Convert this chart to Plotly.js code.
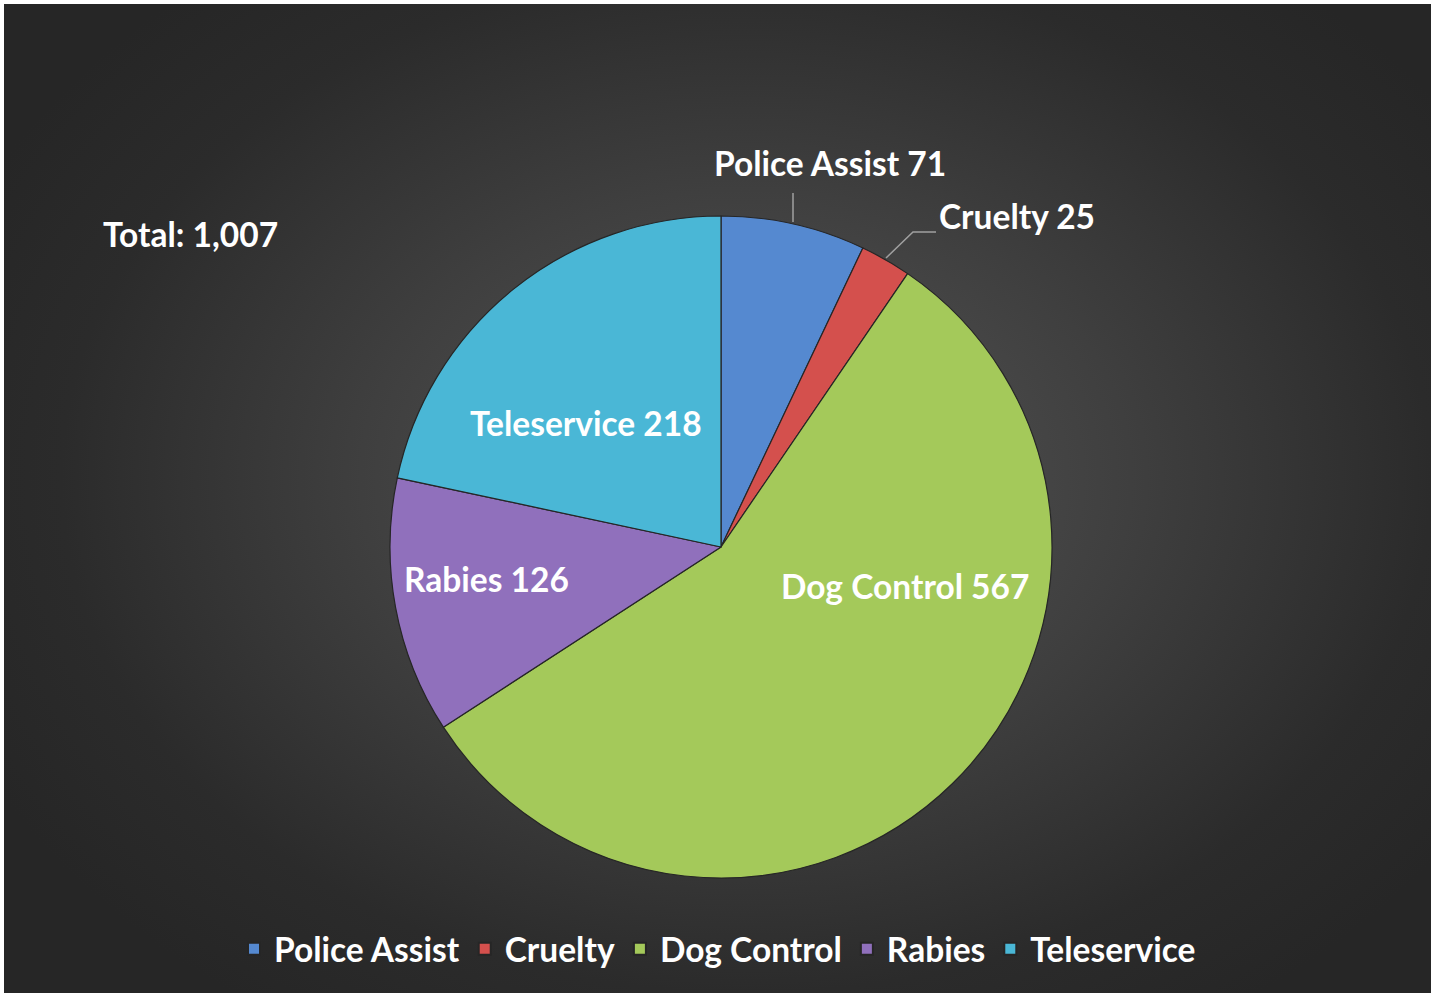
<!DOCTYPE html>
<html>
<head>
<meta charset="utf-8">
<script src="https://cdn.plot.ly/plotly-3.0.1.min.js"></script>
<style>
  html, body { margin: 0; padding: 0; background: #ffffff; }
  #wrap { position: absolute; left: 4px; top: 4px; width: 1427px; height: 989px;
    background: radial-gradient(ellipse 60% 65% at 52% 48%, #575757 0%, #3f3f3f 45%, #2b2b2b 80%, #262626 100%); }
  #chart { width: 1427px; height: 989px; }
</style>
</head>
<body>
<div id="wrap"><div id="chart"></div></div>
<script>
const categories = ["Police Assist", "Cruelty", "Dog Control", "Rabies", "Teleservice"];
const values = [71, 25, 567, 126, 218];
const colors = ["#5589d0", "#d4504d", "#a4c95a", "#9070bc", "#4ab7d6"];
const totalLabel = "Total: 1,007";

const W = 1427, H = 989;
const px = (x) => (x - 4) / W;
const py = (y) => 1 - (y - 4) / H;

const font = "Lato, 'Open Sans', sans-serif";
const fsize = 33.5;

const trace = {
  type: "pie",
  labels: categories,
  values: values,
  sort: false,
  direction: "clockwise",
  rotation: 0,
  marker: { colors: colors, line: { color: "#262626", width: 1.2 } },
  textinfo: "none",
  hoverinfo: "label+value",
  domain: { x: [px(390), px(1052)], y: [py(878), py(216)] }
};

const labelPos = [
  [830, 163], [1017, 216], [905, 586], [486, 579], [586, 423]
];

const annotations = categories.map((c, i) => ({
  xref: "paper", yref: "paper",
  x: px(labelPos[i][0]), y: py(labelPos[i][1]),
  text: "<b>" + c + " " + values[i] + "</b>",
  showarrow: false,
  font: { family: font, size: fsize, color: "#ffffff" },
  xanchor: "center", yanchor: "middle"
}));
annotations.push({
  xref: "paper", yref: "paper",
  x: px(190), y: py(234),
  text: "<b>" + totalLabel + "</b>",
  showarrow: false,
  font: { family: font, size: fsize, color: "#ffffff" },
  xanchor: "center", yanchor: "middle"
});

const shapes = [
  { type: "line", xref: "paper", yref: "paper",
    x0: px(793), y0: py(193), x1: px(793), y1: py(222),
    line: { color: "#a0a0a0", width: 1.5 } },
  { type: "path", xref: "paper", yref: "paper",
    path: "M " + px(936) + "," + py(232) + " L " + px(913) + "," + py(232) + " L " + px(886) + "," + py(258),
    line: { color: "#a0a0a0", width: 1.5 } }
];

const layout = {
  width: W, height: H,
  margin: { l: 0, r: 0, t: 0, b: 0 },
  paper_bgcolor: "rgba(0,0,0,0)",
  plot_bgcolor: "rgba(0,0,0,0)",
  showlegend: true,
  legend: {
    orientation: "h",
    x: 0.5, xanchor: "center",
    y: py(949), yanchor: "middle",
    font: { family: font, size: fsize, color: "#ffffff", weight: "bold" },
    itemsizing: "constant",
    traceorder: "normal",
    bgcolor: "rgba(0,0,0,0)"
  },
  annotations: annotations,
  shapes: shapes
};

Plotly.newPlot("chart", [trace], layout, { displayModeBar: false, staticPlot: true });
</script>
</body>
</html>
